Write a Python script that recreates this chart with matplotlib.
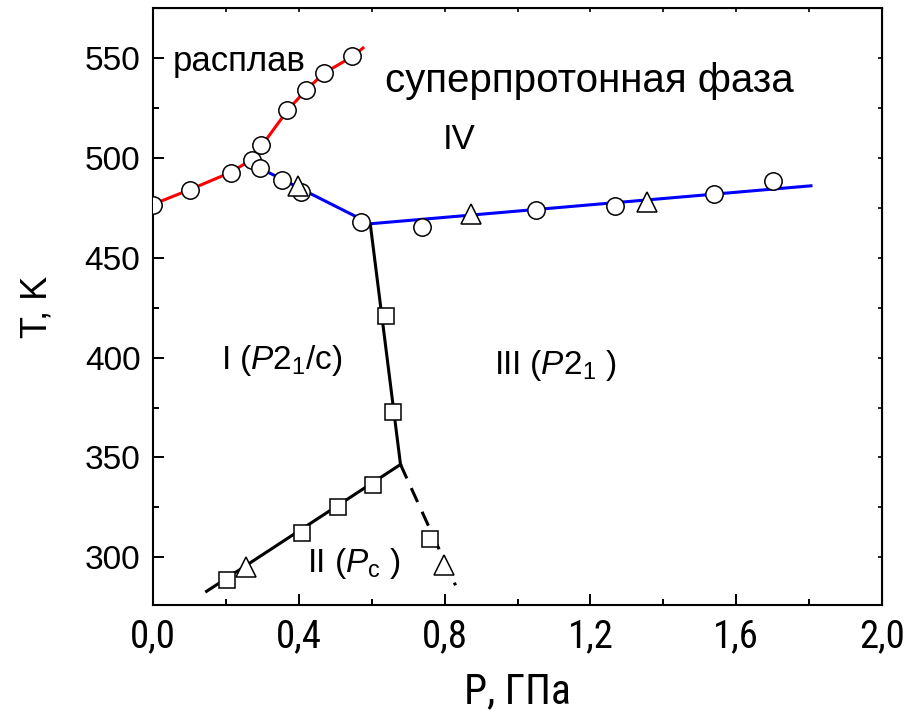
import matplotlib.pyplot as plt
from matplotlib.ticker import MultipleLocator

plt.rcParams['font.family'] = ['Liberation Sans', 'DejaVu Sans']
plt.rcParams['mathtext.fontset'] = 'custom'
plt.rcParams['mathtext.rm'] = 'Liberation Sans'
plt.rcParams['mathtext.it'] = 'Liberation Sans:italic'
narrow = ['Arial Narrow', 'Liberation Sans Narrow', 'Roboto Condensed', 'PT Sans Narrow', 'Liberation Sans']

# melting line (red)
melt_P = [-0.01, 0.10, 0.21, 0.27, 0.30, 0.37, 0.42, 0.47, 0.55, 0.576]
melt_T = [476.0, 484.0, 492.5, 499.0, 506.5, 524.0, 534.0, 542.5, 551.0, 555.0]
melt_circ_P = [0.0, 0.102, 0.214, 0.271, 0.297, 0.368, 0.419, 0.470, 0.547]
melt_circ_T = [476.5, 484.0, 492.5, 499.0, 506.5, 524.0, 534.0, 542.5, 551.0]

# superprotonic boundary (blue)
sp_P = [0.27, 0.596, 1.805]
sp_T = [497.0, 467.0, 486.0]
sp_circ_P = [0.294, 0.355, 0.407, 0.571, 0.738, 1.051, 1.267, 1.538, 1.700]
sp_circ_T = [495.0, 488.8, 482.7, 468.0, 465.5, 474.0, 475.8, 481.8, 488.5]
sp_tri_P = [0.399, 0.872, 1.355]
sp_tri_T = [486.0, 472.0, 478.0]

# I / III boundary
b13_P = [0.596, 0.679]
b13_T = [467.0, 346.5]
b13_sq_P = [0.638, 0.658]
b13_sq_T = [420.8, 373.0]

# I / II boundary
b12_P = [0.147, 0.679]
b12_T = [283.0, 346.5]
b12_sq_P = [0.202, 0.408, 0.507, 0.603]
b12_sq_T = [288.8, 312.0, 325.0, 336.0]
b12_tri_P = [0.254]
b12_tri_T = [295.0]

# II / III boundary (dashed)
b23_P = [0.679, 0.830]
b23_T = [346.5, 286.0]
b23_sq_P = [0.761]
b23_sq_T = [309.0]
b23_tri_P = [0.799]
b23_tri_T = [296.0]

xticks = [0.0, 0.4, 0.8, 1.2, 1.6, 2.0]
xticklabels = ['0,0', '0,4', '0,8', '1,2', '1,6', '2,0']
yticks = [300, 350, 400, 450, 500, 550]

fig = plt.figure(figsize=(9.08, 7.16), dpi=100)
ax = fig.add_axes([0.1685, 0.1546, 0.8029, 0.8342])

lw = 2.2
ax.plot(melt_P, melt_T, color='red', lw=lw, zorder=2)
ax.plot(sp_P, sp_T, color='blue', lw=lw, zorder=2)
ax.plot(b13_P, b13_T, color='black', lw=lw, zorder=2)
ax.plot(b12_P, b12_T, color='black', lw=lw, zorder=2)
ax.plot(b23_P, b23_T, color='black', lw=lw, ls=(0, (5, 3.5)), zorder=2)

mk = dict(ls='none', mfc='white', mec='black', mew=1.1, zorder=3)
ax.plot(melt_circ_P, melt_circ_T, marker='o', ms=12.5, **mk)
ax.plot(sp_circ_P, sp_circ_T, marker='o', ms=12.5, **mk)
ax.plot(sp_tri_P, sp_tri_T, marker='^', ms=15, **mk)
ax.plot(b13_sq_P, b13_sq_T, marker='s', ms=11, **mk)
ax.plot(b12_sq_P, b12_sq_T, marker='s', ms=11, **mk)
ax.plot(b12_tri_P, b12_tri_T, marker='^', ms=15, **mk)
ax.plot(b23_sq_P, b23_sq_T, marker='s', ms=11, **mk)
ax.plot(b23_tri_P, b23_tri_T, marker='^', ms=15, **mk)

ax.set_xlim(0, 2.0)
ax.set_ylim(276, 575)
ax.set_xticks(xticks)
ax.set_xticklabels(xticklabels, family=narrow, fontsize=28)
ax.set_yticks(yticks)
ax.tick_params(axis='y', labelsize=24)
ax.xaxis.set_minor_locator(MultipleLocator(0.2))
ax.yaxis.set_minor_locator(MultipleLocator(25))
ax.tick_params(which='major', direction='in', length=8, width=1.4, pad=9)
ax.tick_params(which='minor', direction='in', length=4.5, width=1.4)
for s in ax.spines.values():
    s.set_linewidth(1.5)

top = ax.secondary_xaxis('top')
top.set_xticks(xticks)
top.xaxis.set_minor_locator(MultipleLocator(0.2))
top.tick_params(which='both', direction='in', length=3, width=1.2, labeltop=False)
right = ax.secondary_yaxis('right')
right.set_yticks(yticks)
right.yaxis.set_minor_locator(MultipleLocator(25))
right.tick_params(which='both', direction='in', length=3, width=1.2, labelright=False)

ax.set_xlabel('Р, ГПа', family=narrow, fontsize=30, labelpad=12)
ax.set_ylabel('T, K', fontsize=26, labelpad=22)

ax.text(0.235, 548, 'расплав', fontsize=25, ha='center', va='center')
ax.text(0.637, 538.5, 'суперпротонная фаза', fontsize=29, ha='left', va='center')
ax.text(0.84, 509, 'IV', fontsize=25, ha='center', va='center')
ax.text(0.354, 398.5, r'I ($P2_1$/c)', fontsize=24, ha='center', va='center')
ax.text(1.104, 396, r'III ($P2_1$ )', fontsize=24, ha='center', va='center')
ax.text(0.552, 297, r'II ($P_\mathrm{c}$ )', fontsize=24, ha='center', va='center')

fig.savefig('out.png', dpi=100)
